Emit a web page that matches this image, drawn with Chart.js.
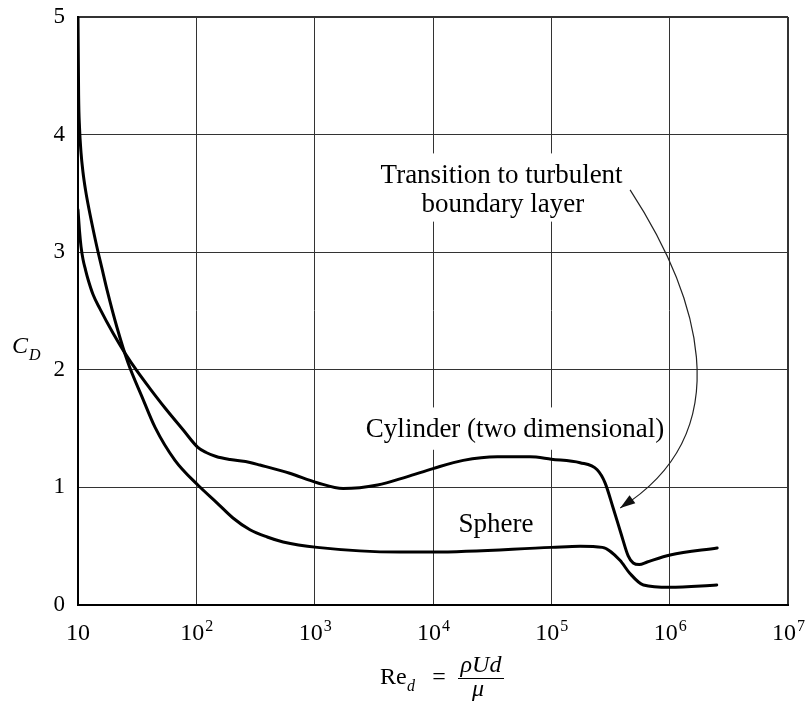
<!DOCTYPE html>
<html lang="en">
<head>
  <meta charset="UTF-8">
  <title>Drag coefficient of cylinder and sphere</title>
  <script src="https://cdn.jsdelivr.net/npm/chart.js"></script>
  <style>
    body { margin: 0; background: #fff; }
    canvas { display: block; }
  </style>
</head>
<body>
  <canvas id="cdChart" width="806" height="705"></canvas>

  <script>
    // axis ticks
    const xTicks = [10, 1e2, 1e3, 1e4, 1e5, 1e6, 1e7];
    const xTickBase = '10';
    const xTickExps = ['', '2', '3', '4', '5', '6', '7'];
    const yTicks = [0, 1, 2, 3, 4, 5];

    // Cylinder (two dimensional)
    const cylRe = [10, 10.3, 10.6, 11.02, 11.57, 12.15, 13.4, 15.3, 19.8, 25, 31.5, 40.6, 54.4, 77.2, 103, 121, 147,
                   193, 284, 345, 615, 1050, 1740, 3400, 6000, 1e4, 1.8e4, 3.5e4, 6.6e4, 1e5, 1.75e5, 2.44e5,
                   2.85e5, 3.33e5, 3.89e5, 4.46e5, 4.92e5, 5.53e5, 6.46e5, 1.01e6, 2.52e6];
    const cylCd = [3.36, 3.18, 3.05, 2.94, 2.85, 2.77, 2.64, 2.52, 2.31, 2.14, 1.99, 1.84, 1.675, 1.49, 1.34, 1.297, 1.263,
                   1.237, 1.212, 1.19, 1.12, 1.04, 0.99, 1.02, 1.09, 1.16, 1.23, 1.26, 1.26, 1.24, 1.21, 1.15,
                   1.037, 0.825, 0.604, 0.417, 0.357, 0.344, 0.366, 0.425, 0.485];

    // Sphere
    const sphRe = [10, 10.12, 10.3, 10.6, 11.02, 11.57, 12.15, 13.13, 14.48, 15.96, 17.59, 21.36, 26.47, 34.75,
                   44.81, 66, 103, 150, 204, 284, 397, 541, 1050, 5250, 1e4, 1e5, 1.75e5, 2.7e5, 3.8e5, 4.6e5,
                   6e5, 1e6, 2.5e6];
    const sphCd = [5.0, 4.34, 4.06, 3.85, 3.68, 3.53, 3.41, 3.24, 3.04, 2.86, 2.68, 2.36, 2.06, 1.77,
                   1.51, 1.23, 1.02, 0.867, 0.74, 0.64, 0.578, 0.536, 0.49, 0.45, 0.45, 0.49, 0.50, 0.49, 0.38, 0.27,
                   0.17, 0.15, 0.17];

    const serif = '"Liberation Serif", "Times New Roman", serif';

    // text labels placed in data coordinates (Re, Cd of the baseline)
    const notes = [
      { text: 'Transition to turbulent', re: 3.8e4, cd: 3.59 },
      { text: 'boundary layer', re: 3.9e4, cd: 3.34 },
      { text: 'Cylinder (two dimensional)', re: 4.94e4, cd: 1.43 },
      { text: 'Sphere', re: 3.41e4, cd: 0.62 }
    ];
    // white boxes behind the annotation text (gaps in the grid)
    const noteBoxes = [
      { re0: 3.0e3, re1: 5.6e5, cd0: 3.26, cd1: 3.84 },
      { re0: 2.5e3, re1: 9.2e5, cd0: 1.32, cd1: 1.68 }
    ];
    // arrow from the text to the cylinder curve, cubic curve in data space
    const arrowRe = [4.63e5, 1.64e6, 4.35e6, 3.82e5];
    const arrowCd = [3.53, 2.68, 1.49, 0.825];

    const toPoints = (xs, ys) => xs.map((x, i) => ({ x: x, y: ys[i] }));

    const extras = {
      id: 'extras',
      beforeDatasetsDraw(chart) {
        const ctx = chart.ctx;
        const xs = chart.scales.x, ys = chart.scales.y;
        ctx.save();
        ctx.fillStyle = '#fff';
        noteBoxes.forEach(b => {
          const x0 = xs.getPixelForValue(b.re0), x1 = xs.getPixelForValue(b.re1);
          const y0 = ys.getPixelForValue(b.cd1), y1 = ys.getPixelForValue(b.cd0);
          ctx.fillRect(x0, y0, x1 - x0, y1 - y0);
        });
        ctx.restore();
      },
      afterDraw(chart) {
        const ctx = chart.ctx;
        const xs = chart.scales.x, ys = chart.scales.y;
        const area = chart.chartArea;
        ctx.save();
        ctx.fillStyle = '#000';
        ctx.textBaseline = 'alphabetic';

        // x tick labels with superscript exponents
        xTicks.forEach((v, i) => {
          const px = xs.getPixelForValue(v);
          ctx.font = '24px ' + serif;
          const wb = ctx.measureText(xTickBase).width;
          ctx.font = '16px ' + serif;
          const we = ctx.measureText(xTickExps[i]).width;
          const left = px - (wb + we) / 2;
          ctx.textAlign = 'left';
          ctx.font = '24px ' + serif;
          ctx.fillText(xTickBase, left, area.bottom + 35);
          ctx.font = '16px ' + serif;
          ctx.fillText(xTickExps[i], left + wb + 1, area.bottom + 26);
        });

        // annotation text
        ctx.textAlign = 'center';
        ctx.font = '27px ' + serif;
        notes.forEach(n => {
          ctx.fillText(n.text, xs.getPixelForValue(n.re), ys.getPixelForValue(n.cd));
        });

        // y axis title C_D
        ctx.textAlign = 'left';
        ctx.font = 'italic 24px ' + serif;
        ctx.fillText('C', 12, 353);
        ctx.font = 'italic 16px ' + serif;
        ctx.fillText('D', 29, 360);

        // x axis title Re_d = rho U d / mu
        ctx.font = '24px ' + serif;
        ctx.fillText('Re', 380, 684);
        ctx.font = 'italic 16px ' + serif;
        ctx.fillText('d', 407, 691);
        ctx.font = '24px ' + serif;
        ctx.textAlign = 'center';
        ctx.fillText('=', 439, 684);
        ctx.font = 'italic 24px ' + serif;
        ctx.fillText('\u03c1Ud', 481, 672);
        ctx.fillText('\u03bc', 478, 696);
        ctx.fillRect(458, 678, 46, 1);

        // arrow
        const p = arrowRe.map((r, i) => [xs.getPixelForValue(r), ys.getPixelForValue(arrowCd[i])]);
        ctx.strokeStyle = '#222';
        ctx.lineWidth = 1.2;
        ctx.beginPath();
        ctx.moveTo(p[0][0], p[0][1]);
        ctx.bezierCurveTo(p[1][0], p[1][1], p[2][0], p[2][1], p[3][0], p[3][1]);
        ctx.stroke();
        const t = 0.94, u = 1 - t;
        const bx = u*u*u*p[0][0] + 3*u*u*t*p[1][0] + 3*u*t*t*p[2][0] + t*t*t*p[3][0];
        const by = u*u*u*p[0][1] + 3*u*u*t*p[1][1] + 3*u*t*t*p[2][1] + t*t*t*p[3][1];
        const ang = Math.atan2(p[3][1] - by, p[3][0] - bx);
        const len = 15, half = 5;
        ctx.fillStyle = '#111';
        ctx.beginPath();
        ctx.moveTo(p[3][0], p[3][1]);
        ctx.lineTo(p[3][0] - len * Math.cos(ang) + half * Math.sin(ang), p[3][1] - len * Math.sin(ang) - half * Math.cos(ang));
        ctx.lineTo(p[3][0] - len * Math.cos(ang) - half * Math.sin(ang), p[3][1] - len * Math.sin(ang) + half * Math.cos(ang));
        ctx.closePath();
        ctx.fill();
        ctx.restore();
      }
    };

    const ctx = document.getElementById('cdChart').getContext('2d');
    const cdChart = new Chart(ctx, {
      type: 'line',
      data: {
        datasets: [
          {
            label: 'Cylinder (two dimensional)',
            data: toPoints(cylRe, cylCd),
            borderColor: '#000',
            borderWidth: 3,
            cubicInterpolationMode: 'monotone',
            pointRadius: 0,
            fill: false
          },
          {
            label: 'Sphere',
            data: toPoints(sphRe, sphCd),
            borderColor: '#000',
            borderWidth: 3,
            cubicInterpolationMode: 'monotone',
            pointRadius: 0,
            fill: false
          }
        ]
      },
      options: {
        responsive: false,
        devicePixelRatio: 1,
        animation: false,
        layout: { padding: { top: 17, right: 18, left: 0, bottom: 0 } },
        plugins: {
          legend: { display: false },
          tooltip: { enabled: false }
        },
        elements: { line: { borderJoinStyle: 'round', borderCapStyle: 'round' } },
        scales: {
          x: {
            type: 'logarithmic',
            min: xTicks[0],
            max: xTicks[xTicks.length - 1],
            afterBuildTicks: (scale) => { scale.ticks = xTicks.map(v => ({ value: v })); },
            afterFit: (scale) => { scale.height = 100; scale.paddingLeft = 0; scale.paddingRight = 0; },
            ticks: { display: false },
            grid: {
              drawTicks: false,
              color: '#333',
              lineWidth: (c) => (c.tick && c.tick.value === xTicks[xTicks.length - 1] ? 2 : 1)
            },
            border: { color: '#000', width: 2 }
          },
          y: {
            min: yTicks[0],
            max: yTicks[yTicks.length - 1],
            afterBuildTicks: (scale) => { scale.ticks = yTicks.map(v => ({ value: v })); },
            afterFit: (scale) => { scale.width = 78; scale.paddingTop = 0; scale.paddingBottom = 0; },
            ticks: {
              color: '#000',
              padding: 13,
              font: { family: serif, size: 23 }
            },
            grid: {
              drawTicks: false,
              color: '#333',
              lineWidth: (c) => (c.tick && c.tick.value === yTicks[yTicks.length - 1] ? 2 : 1)
            },
            border: { color: '#000', width: 2 }
          }
        }
      },
      plugins: [extras]
    });
  </script>
</body>
</html>
